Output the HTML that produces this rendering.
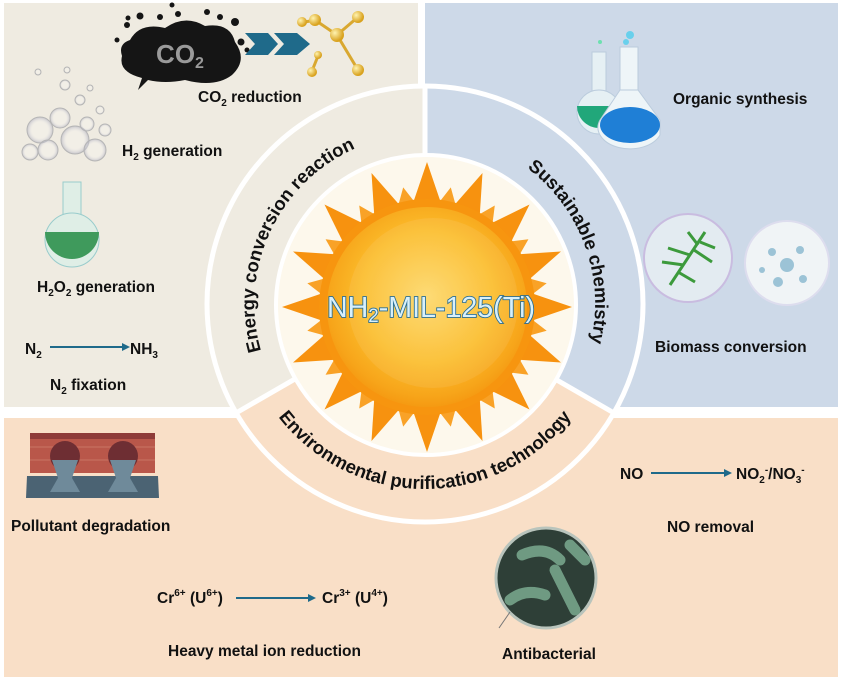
<!DOCTYPE html>
<html><head><meta charset="utf-8"><style>
html,body{margin:0;padding:0;background:#fff}
svg{display:block}
text{font-family:"Liberation Sans",Arial,sans-serif;font-weight:bold;fill:#111}
</style></head><body>
<svg width="841" height="680" viewBox="0 0 841 680" xmlns="http://www.w3.org/2000/svg">
<defs>
<radialGradient id="sun" cx="50%" cy="45%" r="55%">
<stop offset="0" stop-color="#fdd86a"/><stop offset="0.6" stop-color="#fbbd2c"/><stop offset="0.9" stop-color="#f7a51a"/><stop offset="1" stop-color="#f59a12"/>
</radialGradient>
<radialGradient id="bub" cx="50%" cy="50%" r="50%"><stop offset="0.6" stop-color="#fff" stop-opacity="0.2"/><stop offset="1" stop-color="#aab" stop-opacity="0.6"/></radialGradient>
<radialGradient id="gold" cx="35%" cy="35%" r="60%"><stop offset="0" stop-color="#fff3b0"/><stop offset="1" stop-color="#d9a21e"/></radialGradient>
<path id="pl" d="M355.9,459.3 A170,170 0 1 1 499.5,151.2"/>
<path id="pr" d="M361.3,146.4 A170,170 0 1 1 477.5,465.7"/>
<path id="pb" d="M240,304 A185,185 0 0 0 610,304"/>
</defs>
<!-- panels -->
<rect x="4" y="3" width="414" height="404" fill="#efebe1"/>
<rect x="425" y="3" width="413" height="404" fill="#cdd9e8"/>
<rect x="4" y="418" width="834" height="259" fill="#f9dfc7"/>
<!-- ring -->
<g>
<path d="M425,304 L425,86 A218,218 0 0 0 236,413 Z" fill="#efebe1"/>
<path d="M425,304 L425,86 A218,218 0 0 1 614,413 Z" fill="#cdd9e8"/>
<path d="M425,304 L614,413 A218,218 0 0 1 236,413 Z" fill="#f9dfc7"/>
<circle cx="425" cy="304" r="218" fill="none" stroke="#fff" stroke-width="5"/>
<line x1="425" y1="86" x2="425" y2="304" stroke="#fff" stroke-width="5"/>
<line x1="236" y1="413" x2="425" y2="304" stroke="#fff" stroke-width="5"/>
<line x1="614" y1="413" x2="425" y2="304" stroke="#fff" stroke-width="5"/>
<circle cx="426" cy="305" r="150" fill="#fdf8ec" stroke="#fff" stroke-width="4"/>
</g>
<!-- sun rays -->
<g transform="translate(427,307)" fill="#f7920f">
<polygon id="ray" points="-16,-98 0,-145 16,-98"/>
<use href="#ray" transform="rotate(22.5)"/><use href="#ray" transform="rotate(45)"/><use href="#ray" transform="rotate(67.5)"/>
<use href="#ray" transform="rotate(90)"/><use href="#ray" transform="rotate(112.5)"/><use href="#ray" transform="rotate(135)"/>
<use href="#ray" transform="rotate(157.5)"/><use href="#ray" transform="rotate(180)"/><use href="#ray" transform="rotate(202.5)"/>
<use href="#ray" transform="rotate(225)"/><use href="#ray" transform="rotate(247.5)"/><use href="#ray" transform="rotate(270)"/>
<use href="#ray" transform="rotate(292.5)"/><use href="#ray" transform="rotate(315)"/><use href="#ray" transform="rotate(337.5)"/>
<g fill="#f9a227">
<polygon id="ray2" points="-12,-98 0,-122 12,-98" transform="rotate(11.25)"/>
<use href="#ray2" transform="rotate(22.5)"/><use href="#ray2" transform="rotate(45)"/><use href="#ray2" transform="rotate(67.5)"/>
<use href="#ray2" transform="rotate(90)"/><use href="#ray2" transform="rotate(112.5)"/><use href="#ray2" transform="rotate(135)"/>
<use href="#ray2" transform="rotate(157.5)"/><use href="#ray2" transform="rotate(180)"/><use href="#ray2" transform="rotate(202.5)"/>
<use href="#ray2" transform="rotate(225)"/><use href="#ray2" transform="rotate(247.5)"/><use href="#ray2" transform="rotate(270)"/>
<use href="#ray2" transform="rotate(292.5)"/><use href="#ray2" transform="rotate(315)"/><use href="#ray2" transform="rotate(337.5)"/>
</g>
<circle r="108" fill="#f7950f"/>
<circle r="100" fill="url(#sun)"/>
<circle cx="6" cy="-4" r="85" fill="#fff" opacity="0.08"/>
</g>
<text x="431" y="317" text-anchor="middle" font-size="29" textLength="208" lengthAdjust="spacingAndGlyphs" style="font-weight:normal;fill:#d8f0fb;stroke:#2a6e93;stroke-width:1.8;paint-order:stroke">NH<tspan font-size="19" dy="5">2</tspan><tspan dy="-5">-MIL-125(Ti)</tspan></text>
<!-- curved labels -->
<text font-size="18.5"><textPath href="#pl" startOffset="50%" text-anchor="middle">Energy conversion reaction</textPath></text>
<text font-size="18.5"><textPath href="#pr" startOffset="50%" text-anchor="middle">Sustainable chemistry</textPath></text>
<text font-size="18.5"><textPath href="#pb" startOffset="50%" text-anchor="middle">Environmental purification technology</textPath></text>
<!-- CO2 cloud -->
<g fill="#151515">
<path d="M130,40 Q140,22 165,28 Q185,14 205,26 Q230,22 235,42 Q248,60 232,75 Q215,88 185,80 Q165,84 148,80 L138,90 L142,78 Q118,72 122,56 Q118,44 130,40Z"/>
<circle cx="172" cy="5" r="2.5"/><circle cx="140" cy="16" r="3.5"/><circle cx="160" cy="17" r="3"/><circle cx="178" cy="14" r="3"/><circle cx="207" cy="12" r="3"/><circle cx="220" cy="17" r="3"/><circle cx="235" cy="22" r="4"/><circle cx="127" cy="25" r="3"/><circle cx="117" cy="40" r="2.5"/><circle cx="241" cy="42" r="3.5"/><circle cx="247" cy="50" r="2.5"/><circle cx="128" cy="18" r="2.5"/>
</g>
<text x="180" y="63" text-anchor="middle" font-size="26" style="fill:#9a9a9a">CO<tspan font-size="16" dy="5">2</tspan></text>
<g fill="#1f6a8a">
<polygon points="245,33 268,33 278,44 268,55 245,55 255,44"/>
<polygon points="274,33 297,33 310,44 297,55 274,55 284,44"/>
</g>
<g stroke="#d9a830" stroke-width="3" fill="url(#gold)">
<line x1="337" y1="35" x2="315" y2="20"/><line x1="337" y1="35" x2="358" y2="17"/><line x1="337" y1="35" x2="358" y2="70"/><line x1="315" y1="20" x2="305" y2="22"/><line x1="318" y1="56" x2="312" y2="71"/>
<circle cx="337" cy="35" r="7" stroke="none"/><circle cx="315" cy="20" r="6" stroke="none"/><circle cx="358" cy="17" r="6" stroke="none"/><circle cx="358" cy="70" r="6" stroke="none"/><circle cx="302" cy="22" r="5" stroke="none"/><circle cx="318" cy="55" r="4" stroke="none"/><circle cx="312" cy="72" r="5" stroke="none"/>
</g>
<text x="198" y="102" font-size="15.5">CO<tspan font-size="10" dy="4">2</tspan><tspan dy="-4"> reduction</tspan></text>
<!-- bubbles H2 -->
<g stroke="#b5b5b5" stroke-width="1" fill="url(#bub)">
<circle cx="40" cy="130" r="13"/><circle cx="60" cy="118" r="10"/><circle cx="75" cy="140" r="14"/><circle cx="48" cy="150" r="10"/><circle cx="95" cy="150" r="11"/><circle cx="30" cy="152" r="8"/><circle cx="87" cy="124" r="7"/><circle cx="65" cy="85" r="5"/><circle cx="80" cy="100" r="5"/><circle cx="100" cy="110" r="4"/><circle cx="38" cy="72" r="3"/><circle cx="67" cy="70" r="3"/><circle cx="90" cy="88" r="3"/><circle cx="105" cy="130" r="6"/>
</g>
<text x="122" y="156" font-size="15.5">H<tspan font-size="10" dy="4">2</tspan><tspan dy="-4"> generation</tspan></text>
<!-- green flask -->
<g>
<rect x="63" y="182" width="18" height="40" fill="#dfeee6" stroke="#9cc" stroke-width="1"/>
<circle cx="72" cy="240" r="27" fill="#dfeee6" stroke="#9cc"/>
<path d="M45,232 A27,27 0 1 0 99,232 Z" fill="#3f9a5c"/>
</g>
<text x="37" y="292" font-size="15.5">H<tspan font-size="10" dy="4">2</tspan><tspan dy="-4">O</tspan><tspan font-size="10" dy="4">2</tspan><tspan dy="-4"> generation</tspan></text>
<text x="25" y="354" font-size="15.5">N<tspan font-size="10" dy="4">2</tspan></text>
<line x1="50" y1="347" x2="124" y2="347" stroke="#1f6a8a" stroke-width="2"/><polygon points="122,343 130,347 122,351" fill="#1f6a8a"/>
<text x="130" y="354" font-size="15.5">NH<tspan font-size="10" dy="4">3</tspan></text>
<text x="50" y="390" font-size="15.5">N<tspan font-size="10" dy="4">2</tspan><tspan dy="-4"> fixation</tspan></text>
<!-- right flasks -->
<g>
<rect x="592" y="52" width="14" height="50" fill="#e6f0f4" stroke="#bcd"/>
<circle cx="599" cy="112" r="22" fill="#e6f0f4" stroke="#bcd"/>
<path d="M577,106 A22,22 0 1 0 621,106Z" fill="#21a77a"/>
<rect x="620" y="47" width="18" height="50" fill="#eef5f8" stroke="#bcd"/>
<path d="M620,90 L600,120 A30,20 0 0 0 660,135 L660,120 L638,90Z" fill="#eef5f8" stroke="#bcd"/>
<ellipse cx="630" cy="125" rx="30" ry="18" fill="#1f7fd6"/>
<circle cx="630" cy="35" r="4" fill="#69d0ec"/><circle cx="626" cy="42" r="3" fill="#69d0ec"/><circle cx="600" cy="42" r="2" fill="#6de0b0"/>
</g>
<text x="673" y="104" font-size="15.5">Organic synthesis</text>
<!-- biomass bubbles -->
<circle cx="688" cy="258" r="44" fill="#e6eef2" stroke="#c9b9e0" stroke-width="2" opacity="0.9"/>
<g stroke="#3c9a3c" stroke-width="3" fill="none"><path d="M670,285 L705,232"/><path d="M690,255 L668,248 M694,250 L712,262 M684,265 L662,262 M700,242 L715,248 M698,245 L688,232 M678,272 L695,282"/></g>
<circle cx="787" cy="263" r="42" fill="#f0f4f6" stroke="#dde" stroke-width="2"/>
<g fill="#9cc3d6"><circle cx="787" cy="265" r="7"/><circle cx="772" cy="252" r="4"/><circle cx="800" cy="250" r="4"/><circle cx="778" cy="282" r="5"/><circle cx="803" cy="279" r="4"/><circle cx="762" cy="270" r="3"/></g>
<text x="655" y="352" font-size="15.5">Biomass conversion</text>
<!-- sewer -->
<g>
<rect x="30" y="433" width="125" height="40" fill="#b9574a"/>
<rect x="30" y="433" width="125" height="6" fill="#8f3b38"/>
<g stroke="#c97464" stroke-width="1"><line x1="30" y1="447" x2="155" y2="447"/><line x1="30" y1="460" x2="155" y2="460"/></g>
<circle cx="65" cy="456" r="15" fill="#6e2e33"/><circle cx="123" cy="456" r="15" fill="#6e2e33"/>
<path d="M27,476 L158,476 L159,498 L26,498Z" fill="#4b6373"/>
<path d="M52,460 L78,460 L72,478 L80,492 L50,492 L58,478Z" fill="#6f8a9a"/>
<path d="M110,460 L136,460 L130,478 L138,492 L108,492 L116,478Z" fill="#6f8a9a"/>
</g>
<text x="11" y="531" font-size="15.5">Pollutant degradation</text>
<!-- NO -->
<text x="620" y="479" font-size="15.5">NO</text>
<line x1="651" y1="473" x2="726" y2="473" stroke="#1f6a8a" stroke-width="2"/><polygon points="724,469 732,473 724,477" fill="#1f6a8a"/>
<text x="736" y="479" font-size="15.5">NO<tspan font-size="10" dy="4">2</tspan><tspan font-size="10" dy="-10">-</tspan><tspan dy="6">/NO</tspan><tspan font-size="10" dy="4">3</tspan><tspan font-size="10" dy="-10">-</tspan></text>
<text x="667" y="532" font-size="15.5">NO removal</text>
<!-- bacteria -->
<circle cx="546" cy="578" r="50" fill="#2e3f37" stroke="#b9c4bc" stroke-width="3"/>
<g stroke="#6f9a82" stroke-width="11" stroke-linecap="round" fill="none">
<path d="M522,555 Q545,545 560,560"/><path d="M555,570 L575,610"/><path d="M510,600 Q525,588 545,595"/><path d="M570,545 L585,560"/>
</g>
<line x1="499" y1="628" x2="510" y2="612" stroke="#777" stroke-width="1"/>
<text x="502" y="659" font-size="15.5">Antibacterial</text>
<!-- Cr -->
<text x="157" y="603" font-size="15.5">Cr<tspan font-size="10" dy="-7">6+</tspan><tspan dy="7"> (U</tspan><tspan font-size="10" dy="-7">6+</tspan><tspan dy="7">)</tspan></text>
<line x1="236" y1="598" x2="310" y2="598" stroke="#1f6a8a" stroke-width="2"/><polygon points="308,594 316,598 308,602" fill="#1f6a8a"/>
<text x="322" y="603" font-size="15.5">Cr<tspan font-size="10" dy="-7">3+</tspan><tspan dy="7"> (U</tspan><tspan font-size="10" dy="-7">4+</tspan><tspan dy="7">)</tspan></text>
<text x="168" y="656" font-size="15.5">Heavy metal ion reduction</text>
</svg>
</body></html>
